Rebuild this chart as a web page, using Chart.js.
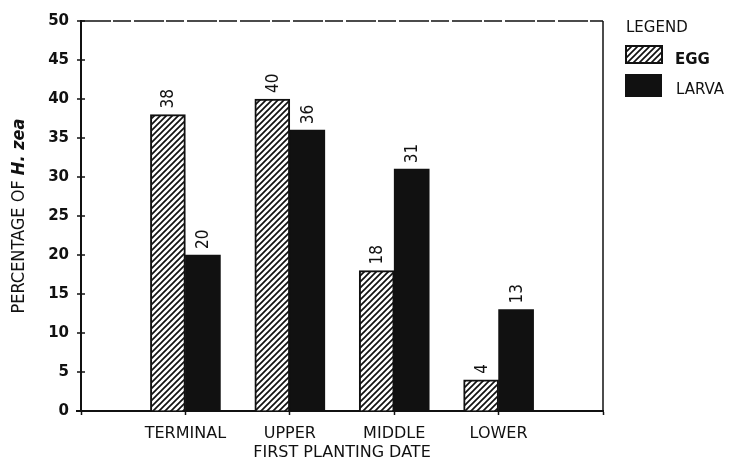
<!DOCTYPE html>
<html lang="en">
<head>
  <meta charset="UTF-8">
  <title>Percentage of H. zea by plant part</title>
  <script src="https://cdn.jsdelivr.net/npm/chart.js"></script>
  <style>
    body {
      margin: 0;
      padding: 0;
      background: #fff;
    }
    #wrap {
      width: 738px;
      height: 464px;
    }
  </style>
</head>
<body>
  <div id="wrap"><canvas id="graph"></canvas></div>

  <script>
    const categories = ['TERMINAL', 'UPPER', 'MIDDLE', 'LOWER'];
    const eggValues = [38, 40, 18, 4];
    const larvaValues = [20, 36, 31, 13];
    const yTicks = [0, 5, 10, 15, 20, 25, 30, 35, 40, 45, 50];

    const ink = '#111';
    const narrow = '"Liberation Sans Narrow", "DejaVu Sans Condensed", Arial, sans-serif';

    // blank slots at both ends so the groups sit like in the scan
    const labels = [''].concat(categories, ['']);
    const pad = arr => [null].concat(arr, [null]);

    const ctx = document.getElementById('graph').getContext('2d');

    function makeHatch() {
      const n = 6;
      const c = document.createElement('canvas');
      c.width = n;
      c.height = n;
      const g = c.getContext('2d');
      g.fillStyle = '#fff';
      g.fillRect(0, 0, n, n);
      g.strokeStyle = ink;
      g.lineWidth = 1.7;
      g.beginPath();
      g.moveTo(-1, n + 1); g.lineTo(n + 1, -1);
      g.moveTo(-1, 1); g.lineTo(1, -1);
      g.moveTo(n - 1, n + 1); g.lineTo(n + 1, n - 1);
      g.stroke();
      return ctx.createPattern(c, 'repeat');
    }

    // value labels, rotated, above each bar
    const barValues = {
      id: 'barValues',
      afterDatasetsDraw(chart) {
        const c = chart.ctx;
        chart.data.datasets.forEach((ds, i) => {
          chart.getDatasetMeta(i).data.forEach((bar, j) => {
            const v = ds.data[j];
            if (v === null) return;
            c.save();
            c.translate(bar.x + 1, bar.y - 6);
            c.rotate(-Math.PI / 2);
            c.font = '17px ' + narrow;
            c.fillStyle = ink;
            c.textAlign = 'left';
            c.textBaseline = 'middle';
            c.fillText(String(v), 0, 0);
            c.restore();
          });
        });
      }
    };

    // frame, y tick crosses, y title with italic species name, legend box
    const extras = {
      id: 'extras',
      afterDraw(chart) {
        const c = chart.ctx;
        const area = chart.chartArea;
        const y = chart.scales.y;

        c.save();
        c.strokeStyle = ink;
        c.lineWidth = 1.5;
        y.ticks.forEach(t => {
          const py = y.getPixelForValue(t.value);
          c.beginPath();
          c.moveTo(area.left - 4, py);
          c.lineTo(area.left + 4, py);
          c.stroke();
        });
        // bottom line runs a bit past the y axis
        c.lineWidth = 2;
        c.beginPath();
        c.moveTo(area.left - 5, area.bottom);
        c.lineTo(area.left, area.bottom);
        c.stroke();
        // dashed top edge and right edge
        c.lineWidth = 1.5;
        c.setLineDash([30, 2, 18, 3]);
        c.beginPath();
        c.moveTo(area.left, area.top);
        c.lineTo(area.right, area.top);
        c.stroke();
        c.setLineDash([]);
        c.beginPath();
        c.moveTo(area.right, area.top);
        c.lineTo(area.right, area.bottom);
        c.stroke();
        c.restore();

        // y title
        c.save();
        c.translate(19, (area.top + area.bottom) / 2);
        c.rotate(-Math.PI / 2);
        c.fillStyle = ink;
        c.textBaseline = 'middle';
        const p1 = 'PERCENTAGE OF ';
        const p2 = 'H. zea';
        const f1 = '18px ' + narrow;
        const f2 = 'italic bold 18px ' + narrow;
        c.font = f1;
        const w1 = c.measureText(p1).width;
        c.font = f2;
        const w2 = c.measureText(p2).width;
        let x0 = -(w1 + w2) / 2;
        c.font = f1;
        c.textAlign = 'left';
        c.fillText(p1, x0, 0);
        c.font = f2;
        c.fillText(p2, x0 + w1, 0);
        c.restore();

        // legend
        c.save();
        c.fillStyle = ink;
        c.textAlign = 'left';
        c.textBaseline = 'middle';
        c.font = '15px "DejaVu Sans", sans-serif';
        c.fillText('LEGEND', 626, 28);
        const ds = chart.data.datasets;
        c.strokeStyle = ink;
        c.lineWidth = 2;
        c.fillStyle = ds[0].backgroundColor;
        c.fillRect(626, 46, 36, 17);
        c.strokeRect(626, 46, 36, 17);
        c.fillStyle = ds[1].backgroundColor;
        c.fillRect(625, 74, 37, 23);
        c.fillStyle = ink;
        c.font = 'bold 15px "DejaVu Sans", sans-serif';
        c.fillText(ds[0].label, 675, 60);
        c.font = '15px "DejaVu Sans", sans-serif';
        c.fillText(ds[1].label, 676, 90);
        c.restore();
      }
    };

    const chart = new Chart(ctx, {
      type: 'bar',
      data: {
        labels: labels,
        datasets: [{
          label: 'EGG',
          data: pad(eggValues),
          backgroundColor: makeHatch(),
          borderColor: ink,
          borderWidth: 2,
          barThickness: 35
        }, {
          label: 'LARVA',
          data: pad(larvaValues),
          backgroundColor: ink,
          borderColor: ink,
          borderWidth: 0,
          barThickness: 35
        }]
      },
      options: {
        responsive: true,
        maintainAspectRatio: false,
        animation: false,
        layout: {
          padding: { left: 0, top: 18, right: 135, bottom: 0 }
        },
        plugins: {
          legend: { display: false },
          tooltip: { enabled: false }
        },
        scales: {
          x: {
            type: 'category',
            offset: false,
            grid: {
              offset: false,
              drawOnChartArea: false,
              drawTicks: true,
              tickLength: 4,
              tickWidth: 1.5,
              tickColor: ink
            },
            border: { display: true, color: ink, width: 2 },
            ticks: {
              color: ink,
              padding: 9,
              maxRotation: 0,
              autoSkip: false,
              font: { family: '"DejaVu Sans", sans-serif', size: 16 }
            },
            title: {
              display: true,
              text: 'FIRST PLANTING DATE',
              color: ink,
              font: { family: '"DejaVu Sans", sans-serif', size: 16 },
              padding: { top: 0, bottom: 2 }
            },
            afterFit(s) { s.height = 53; }
          },
          y: {
            min: 0,
            max: 50,
            afterBuildTicks(s) { s.ticks = yTicks.map(v => ({ value: v })); },
            grid: { drawOnChartArea: false, drawTicks: false },
            border: { display: true, color: ink, width: 2 },
            ticks: {
              color: ink,
              padding: 12,
              font: { family: '"DejaVu Sans", sans-serif', size: 15, weight: 'bold' }
            },
            afterFit(s) { s.width = 81; }
          }
        }
      },
      plugins: [barValues, extras]
    });
  </script>
</body>
</html>
